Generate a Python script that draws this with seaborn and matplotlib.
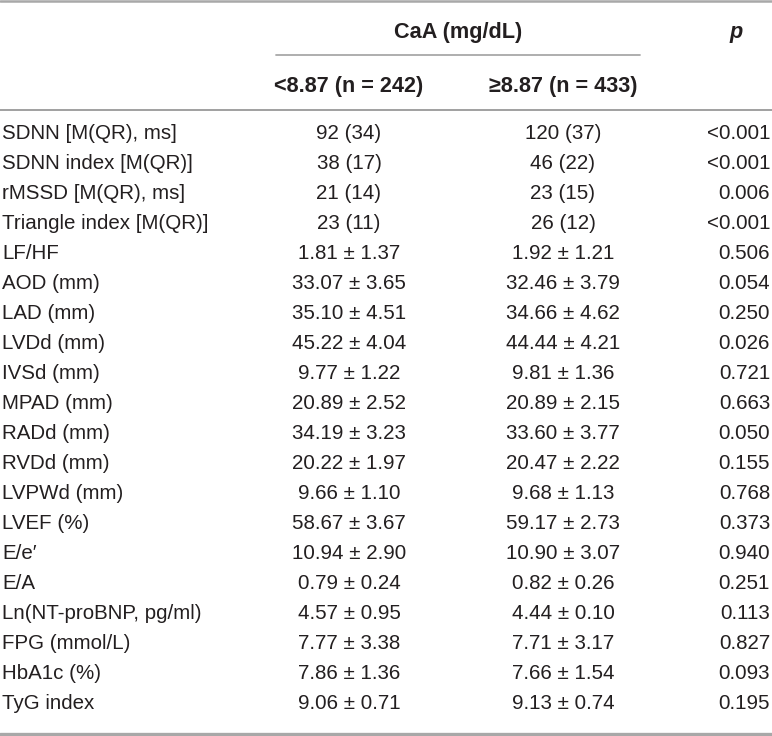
import matplotlib
matplotlib.use("Agg")
import matplotlib.pyplot as plt
import seaborn as sns

# ---- data ----
variables = [
    "SDNN [M(QR), ms]", "SDNN index [M(QR)]", "rMSSD [M(QR), ms]",
    "Triangle index [M(QR)]", "LF/HF", "AOD (mm)", "LAD (mm)", "LVDd (mm)",
    "IVSd (mm)", "MPAD (mm)", "RADd (mm)", "RVDd (mm)", "LVPWd (mm)",
    "LVEF (%)", "E/e\u2032", "E/A", "Ln(NT-proBNP, pg/ml)", "FPG (mmol/L)",
    "HbA1c (%)", "TyG index",
]
low_group = [
    "92 (34)", "38 (17)", "21 (14)", "23 (11)", "1.81 \u00b1 1.37",
    "33.07 \u00b1 3.65", "35.10 \u00b1 4.51", "45.22 \u00b1 4.04",
    "9.77 \u00b1 1.22", "20.89 \u00b1 2.52", "34.19 \u00b1 3.23",
    "20.22 \u00b1 1.97", "9.66 \u00b1 1.10", "58.67 \u00b1 3.67",
    "10.94 \u00b1 2.90", "0.79 \u00b1 0.24", "4.57 \u00b1 0.95",
    "7.77 \u00b1 3.38", "7.86 \u00b1 1.36", "9.06 \u00b1 0.71",
]
high_group = [
    "120 (37)", "46 (22)", "23 (15)", "26 (12)", "1.92 \u00b1 1.21",
    "32.46 \u00b1 3.79", "34.66 \u00b1 4.62", "44.44 \u00b1 4.21",
    "9.81 \u00b1 1.36", "20.89 \u00b1 2.15", "33.60 \u00b1 3.77",
    "20.47 \u00b1 2.22", "9.68 \u00b1 1.13", "59.17 \u00b1 2.73",
    "10.90 \u00b1 3.07", "0.82 \u00b1 0.26", "4.44 \u00b1 0.10",
    "7.71 \u00b1 3.17", "7.66 \u00b1 1.54", "9.13 \u00b1 0.74",
]
p_values = [
    "<0.001", "<0.001", "0.006", "<0.001", "0.506", "0.054", "0.250",
    "0.026", "0.721", "0.663", "0.050", "0.155", "0.768", "0.373",
    "0.940", "0.251", "0.113", "0.827", "0.093", "0.195",
]
group_title = "CaA (mg/dL)"
col_headers = ["<8.87 (n = 242)", "\u22658.87 (n = 433)"]
p_header = "p"

# ---- style ----
sns.set_theme(style="white")
plt.rcParams["font.family"] = ["Liberation Sans", "DejaVu Sans"]
TXT = "#231f20"
LINE = "#a8a8a8"
FS = 14.8
FSB = 15.6

fig = plt.figure(figsize=(7.72, 7.36), dpi=100)
ax = fig.add_axes([0, 0, 1, 1])
ax.set_xlim(0, 772)
ax.set_ylim(736, 0)
ax.set_axis_off()

x_label = 2
x_c1 = 349
x_c2 = 563
x_p = 770

# rules
ax.axhline(1.2, color=LINE, lw=1.8)
ax.plot([276, 640], [55, 55], color=LINE, lw=1.3)
ax.axhline(109.5, color="#999999", lw=1.3)
ax.axhline(734, color=LINE, lw=2.4)

# headers
ax.text((276 + 640) / 2, 38, group_title, ha="center", va="baseline",
        fontsize=FSB, fontweight="bold", color=TXT)
ax.text(736, 38, p_header, ha="center", va="baseline", fontsize=FSB,
        fontweight="bold", fontstyle="italic", color=TXT)
ax.text(x_c1, 92, col_headers[0], ha="center", va="baseline",
        fontsize=FSB, fontweight="bold", color=TXT)
ax.text(x_c2, 92, col_headers[1], ha="center", va="baseline",
        fontsize=FSB, fontweight="bold", color=TXT)

# body
for i, (v, a, b, p) in enumerate(zip(variables, low_group, high_group, p_values)):
    y = 139 + 30.0 * i
    ax.text(x_label, y, v, ha="left", va="baseline", fontsize=FS, color=TXT)
    ax.text(x_c1, y, a, ha="center", va="baseline", fontsize=FS, color=TXT)
    ax.text(x_c2, y, b, ha="center", va="baseline", fontsize=FS, color=TXT)
    ax.text(x_p, y, p, ha="right", va="baseline", fontsize=FS, color=TXT)

fig.savefig("out.png", dpi=100)
